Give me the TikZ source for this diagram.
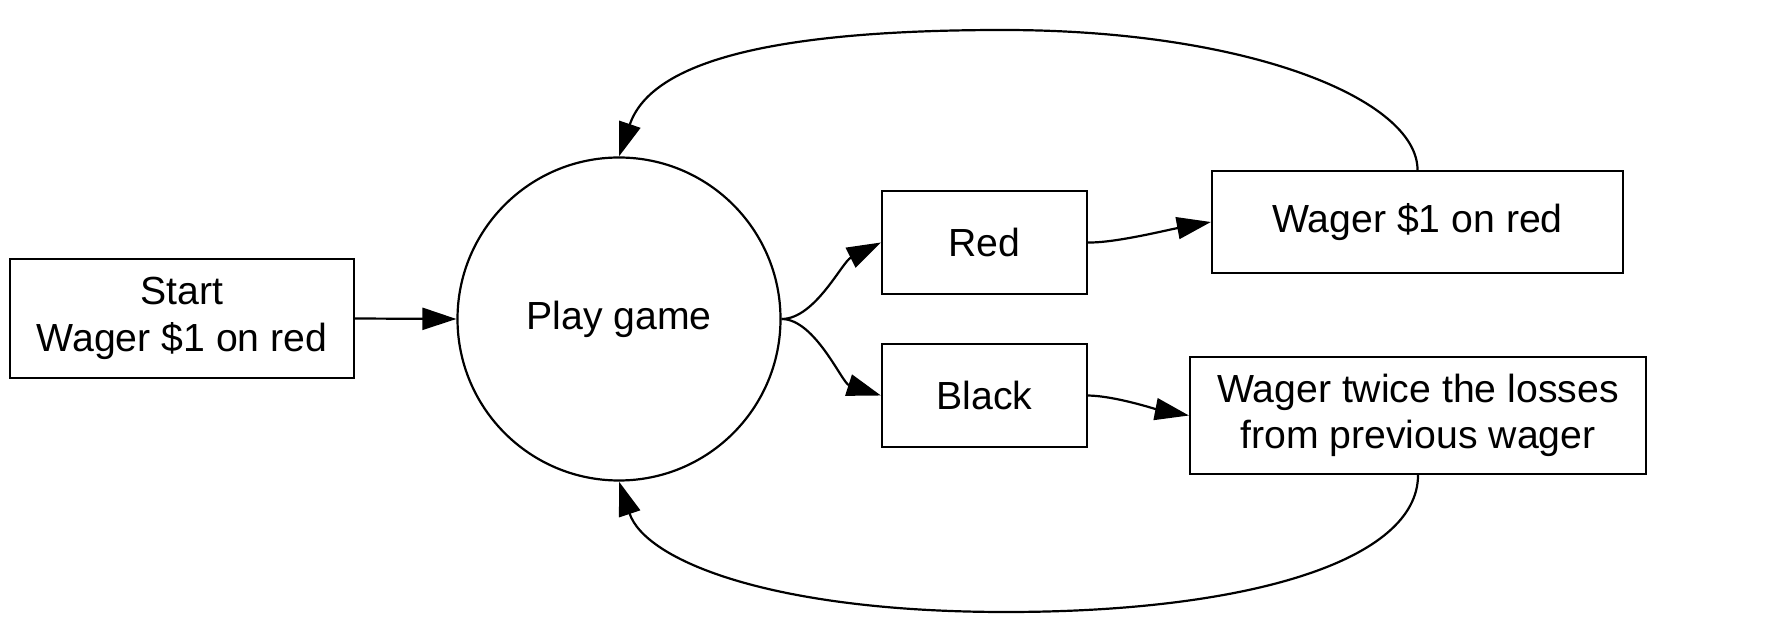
\documentclass[tikz,border=0pt]{standalone}
\usepackage{fontspec}
\setmainfont{Liberation Sans}
\usetikzlibrary{arrows.meta}
\begin{document}
\begin{tikzpicture}[x=0.5pt,y=-0.5pt, line width=1.1pt,
  txt/.style={font=\fontsize{19.6pt}{23.3pt}\selectfont},
  box/.style={draw, rectangle, inner sep=0pt, align=center, txt},
  circ/.style={draw, circle, inner sep=0pt, minimum size=161.5pt, txt},
  arr/.style={-{Triangle[length=17pt,width=11pt]}}]
\useasboundingbox (0,0) rectangle (1792,640);
\node[box, minimum width=172pt, minimum height=59.5pt] (start) at (182,318.5) {Start\\Wager \$1 on red};
\node[circ] (play) at (619,319) {Play game};
\node[box, minimum width=102.5pt, minimum height=51.5pt] (red) at (984.5,242.5) {Red};
\node[box, minimum width=102.5pt, minimum height=51.5pt] (black) at (984.5,395.5) {Black};
\node[box, minimum width=205.5pt, minimum height=51pt] (w1) at (1417.5,222) {Wager \$1 on red};
\node[box, minimum width=228pt, minimum height=58.5pt] (w2) at (1418,415.5) {Wager twice the losses\\from previous wager};
\coordinate (toppeak) at (1003,30);
\coordinate (botpeak) at (1006,612);
\draw[arr] (start.east) -- (play.west);
\draw[arr] (play.east) .. controls (815,319) and (842,262) .. (red.west);
\draw[arr] (play.east) .. controls (815,319) and (842,383) .. (black.west);
\draw[arr] (red.east) .. controls (1115,243) and (1167,230) .. (w1.west);
\draw[arr] (black.east) .. controls (1115,396) and (1155,409) .. (w2.west);
\draw[arr] (w1.north) .. controls (1417.5,100) and (1250,30) .. (toppeak) .. controls (760,30) and (650,65) .. (play.north);
\draw[arr] (w2.south) .. controls (1418,560) and (1250,612) .. (botpeak) .. controls (770,612) and (645,560) .. (play.south);
\end{tikzpicture}
\end{document}
